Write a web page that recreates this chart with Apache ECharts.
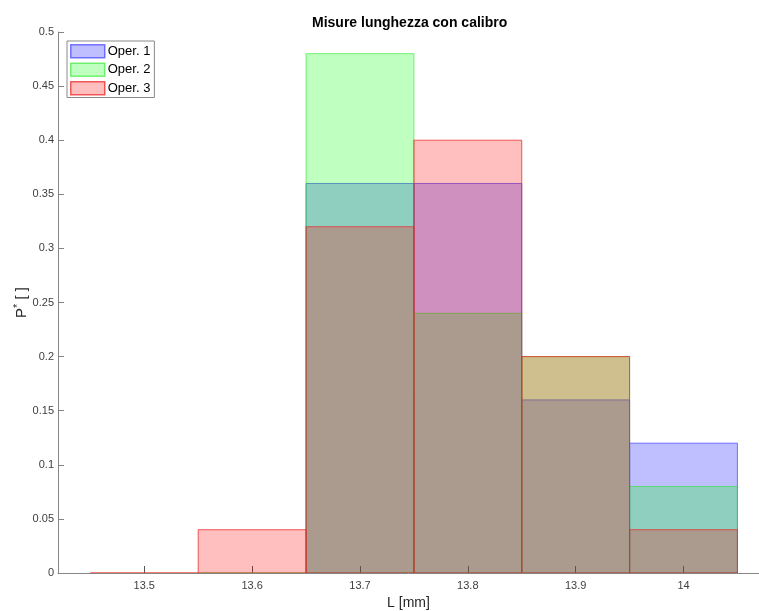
<!DOCTYPE html>
<html>
<head>
<meta charset="utf-8">
<script src="https://cdn.jsdelivr.net/npm/echarts@6/dist/echarts.min.js"></script>
<style>
  html, body { margin: 0; padding: 0; background: #fff; }
  #chart { width: 759px; height: 611px; }
</style>
</head>
<body>
<div id="chart"></div>
<script>
// Histogram bins (centres, in mm) and bin width
const binWidth = 0.1;
const binsOper1 = [13.7, 13.8, 13.9, 14.0];
const binsOper2 = [13.6, 13.7, 13.8, 13.9, 14.0];
const binsOper3 = [13.5, 13.6, 13.7, 13.8, 13.9, 14.0];

// Relative frequencies P* for each operator
const probOper1 = [0.36, 0.36, 0.16, 0.12];
const probOper2 = [0, 0.48, 0.24, 0.20, 0.08];
const probOper3 = [0, 0.04, 0.32, 0.40, 0.20, 0.04];

// Axis tick positions
const xTicks = [13.5, 13.6, 13.7, 13.8, 13.9, 14.0];

const seriesNames = ['Oper. 1', 'Oper. 2', 'Oper. 3'];
const fills = ['rgba(0,0,255,0.25)', 'rgba(0,255,0,0.25)', 'rgba(255,0,0,0.25)'];
const strokes = ['rgba(40,40,255,0.6)', 'rgba(40,230,40,0.6)', 'rgba(235,40,40,0.75)'];

function zip(xs, ys) { return xs.map((x, i) => [x, ys[i]]); }

function histSeries(idx, data) {
  return {
    name: seriesNames[idx],
    type: 'custom',
    data: data,
    itemStyle: { color: fills[idx], borderColor: strokes[idx], borderWidth: 1 },
    clip: true,
    renderItem: function (params, api) {
      const c = api.value(0), v = api.value(1);
      const p0 = api.coord([c - binWidth / 2, v]);
      const p1 = api.coord([c + binWidth / 2, 0]);
      return {
        type: 'rect',
        shape: { x: p0[0], y: p0[1], width: p1[0] - p0[0], height: p1[1] - p0[1] },
        style: { fill: fills[idx], stroke: strokes[idx], lineWidth: 1 }
      };
    }
  };
}

const font = 'Liberation Sans, Arial, Helvetica, sans-serif';
const axisColor = '#858585';

const chart = echarts.init(document.getElementById('chart'), null, { renderer: 'canvas' });
chart.setOption({
  animation: false,
  backgroundColor: '#ffffff',
  textStyle: { fontFamily: font },
  title: {
    text: 'Misure lunghezza con calibro',
    left: 307,
    top: 11,
    textStyle: { fontSize: 14, fontWeight: 'bold', color: '#000', fontFamily: font }
  },
  legend: {
    orient: 'vertical',
    left: 67,
    top: 41,
    padding: [3, 4, 2, 3],
    itemWidth: 34,
    itemHeight: 13,
    itemGap: 4,
    borderColor: '#8a8a8a',
    borderWidth: 1,
    backgroundColor: '#fff',
    textStyle: { fontSize: 13, color: '#000', fontFamily: font, padding: [0, 0, 0, -2] },
    data: seriesNames.map((n, i) => ({
      name: n,
      icon: 'rect',
      itemStyle: { color: fills[i], borderColor: strokes[i], borderWidth: 1.5 }
    }))
  },
  grid: { left: 58, right: 0, top: 32, bottom: 38, containLabel: false, outerBoundsMode: 'none' },
  xAxis: {
    type: 'value',
    min: 13.42,
    max: 14.07,
    name: 'L [mm]',
    nameLocation: 'middle',
    nameGap: 23,
    nameMoveOverlap: false,
    nameTextStyle: { fontSize: 14, color: '#262626', fontFamily: font },
    axisLine: { show: true, onZero: false, lineStyle: { color: axisColor } },
    axisTick: { show: true, inside: true, length: 7, customValues: xTicks, lineStyle: { color: '#555' } },
    axisLabel: {
      customValues: xTicks,
      fontSize: 11, color: '#404040', margin: 7,
      formatter: v => String(parseFloat(v.toFixed(1)))
    },
    splitLine: { show: false }
  },
  yAxis: {
    type: 'value',
    min: 0,
    max: 0.5,
    interval: 0.05,
    name: 'P{sup|*} [ ]',
    nameLocation: 'middle',
    nameGap: 27,
    nameMoveOverlap: false,
    nameTextStyle: {
      fontSize: 15, color: '#262626', fontFamily: font,
      rich: { sup: { fontSize: 11, verticalAlign: 'top', padding: [0, 0, 8, 0], color: '#262626' } }
    },
    axisLine: { show: true, lineStyle: { color: axisColor } },
    axisTick: { show: true, inside: true, length: 6, lineStyle: { color: axisColor } },
    axisLabel: {
      fontSize: 11, color: '#404040', margin: 4,
      formatter: v => String(parseFloat(v.toFixed(2)))
    },
    splitLine: { show: false }
  },
  series: [
    histSeries(0, zip(binsOper1, probOper1)),
    histSeries(1, zip(binsOper2, probOper2)),
    histSeries(2, zip(binsOper3, probOper3))
  ]
});
</script>
</body>
</html>
